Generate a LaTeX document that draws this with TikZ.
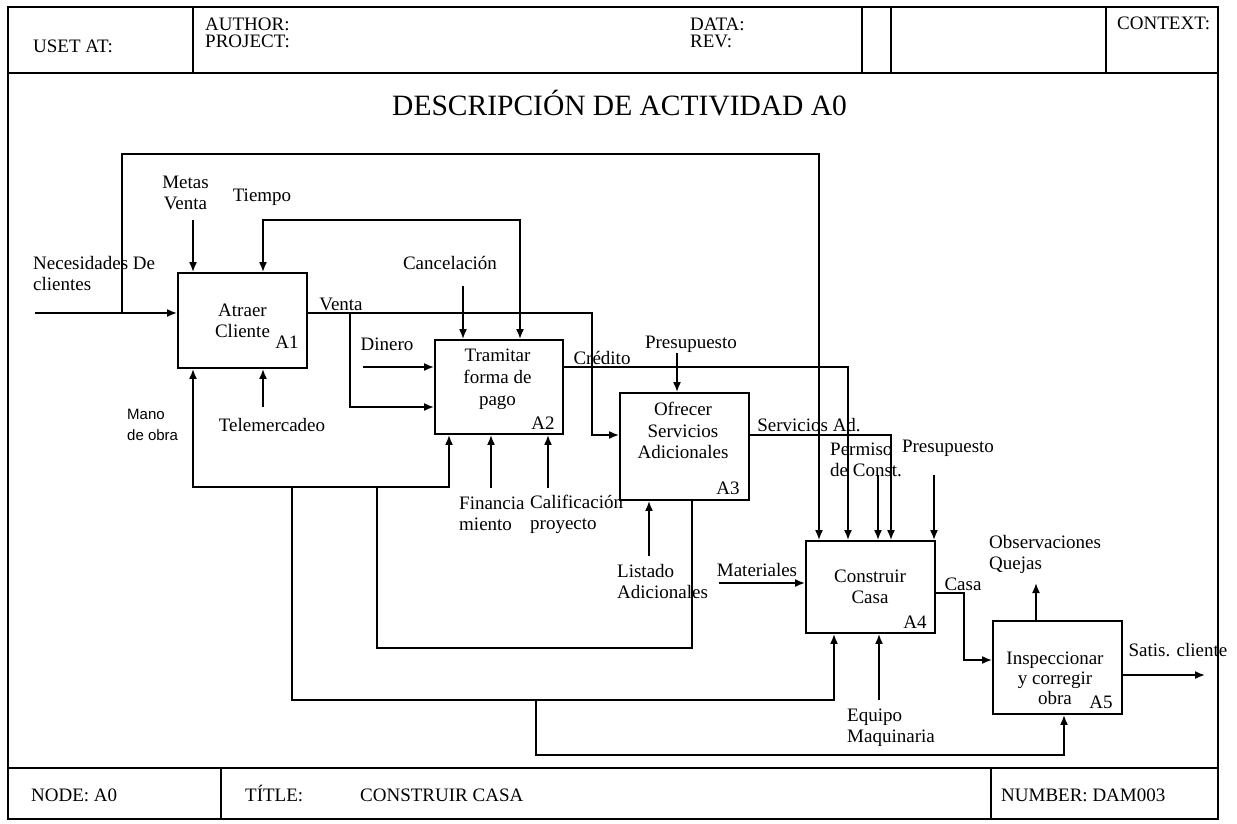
\documentclass[tikz,border=0pt]{standalone}
\usepackage{fontspec}
\setmainfont{Liberation Serif}
\newfontfamily\lsans{Liberation Sans}
\usetikzlibrary{arrows.meta}
\begin{document}
\begin{tikzpicture}[x=1pt,y=-1pt,
  frame/.style={line width=1.9pt},
  box/.style={draw,line width=1.9pt,inner sep=0pt},
  lbl/.style={font=\fontsize{19}{21}\selectfont,inner sep=0pt},
  hd/.style={font=\fontsize{19}{17}\selectfont,inner sep=0pt,anchor=base west},
  sanslbl/.style={font=\lsans\fontsize{15}{21}\selectfont,inner sep=0pt},
  conn/.style={line width=1.7pt},
  arr/.style={conn,-{Latex[length=10pt,width=8pt]}},
  arrs/.style={conn,{Latex[length=10pt,width=8pt]}-{Latex[length=10pt,width=8pt]}}]
\useasboundingbox (0,0) rectangle (1237,823);
\fill[white] (0,0) rectangle (1237,823);
% ---- frame ----
\draw[frame] (8,7) rectangle (1218,819);
\draw[frame] (8,73) -- (1218,73);
\draw[frame] (193,7) -- (193,73);
\draw[frame] (862,7) -- (862,73);
\draw[frame] (891,7) -- (891,73);
\draw[frame] (1106,7) -- (1106,73);
\draw[frame] (8,768) -- (1218,768);
\draw[frame] (221,768) -- (221,819);
\draw[frame] (991,768) -- (991,819);
% ---- header / footer ----
\node[hd] (uset) at (33,52.5) {USET AT:};
\node[hd] (author) at (205,30.5) {AUTHOR:};
\node[hd] (project) at (205,47.5) {PROJECT:};
\node[hd] (data) at (690,30.5) {DATA:};
\node[hd] (rev) at (690,47.5) {REV:};
\node[hd] (context) at (1117,29.5) {CONTEXT:};
\node[inner sep=0pt,anchor=west,font=\fontsize{29.5}{32}\selectfont] (title) at (392,103) {DESCRIPCIÓN DE ACTIVIDAD A0};
\node[hd] (nodeA) at (31,801.5) {NODE: A0};
\node[hd] (titl) at (245,801.5) {TÍTLE:};
\node[hd] (cc) at (360,801.5) {CONSTRUIR CASA};
\node[hd] (num) at (1001,801.5) {NUMBER: DAM003};
% ---- boxes ----
\node[box,minimum width=129pt,minimum height=95pt] (A1) at (242.5,320.5) {};
\node[box,minimum width=128pt,minimum height=94pt] (A2) at (499,387) {};
\node[box,minimum width=129pt,minimum height=107pt] (A3) at (684.5,446.5) {};
\node[box,minimum width=129pt,minimum height=92pt] (A4) at (870.5,587) {};
\node[box,minimum width=129pt,minimum height=93pt] (A5) at (1057.5,667.5) {};
\node[lbl,align=center] (A1t) at (242.5,321) {Atraer\\Cliente};
\node[lbl] (A1n) at (287,342) {A1};
\node[lbl,align=center,font=\fontsize{19}{22}\selectfont] (A2t) at (497.5,379) {Tramitar\\forma de\\pago};
\node[lbl] (A2n) at (543,423) {A2};
\node[lbl,align=center,font=\fontsize{19}{21.5}\selectfont] (A3t) at (683,430.5) {Ofrecer\\Servicios\\Adicionales};
\node[lbl] (A3n) at (728,488) {A3};
\node[lbl,align=center] (A4t) at (870,587) {Construir\\Casa};
\node[lbl] (A4n) at (915,622) {A4};
\node[lbl,align=center,font=\fontsize{19}{20}\selectfont] (A5t) at (1055,678.5) {Inspeccionar\\y corregir\\obra};
\node[lbl] (A5n) at (1101,702) {A5};
% ---- labels ----
\node[lbl,anchor=west,align=left] (nec) at (33,273) {Necesidades De\\clientes};
\node[lbl,align=center] (metas) at (185.5,193) {Metas\\Venta};
\node[lbl] (tiempo) at (262,197) {Tiempo};
\node[lbl] (venta) at (341,304) {Venta};
\node[lbl] (cancel) at (450,263) {Cancelación};
\node[lbl] (dinero) at (387,344) {Dinero};
\node[lbl] (credito) at (602,358) {Crédito};
\node[lbl] (presu1) at (691,344) {Presupuesto};
\node[lbl] (serv) at (809,425) {Servicios Ad.};
\node[lbl,anchor=west,align=left] (permiso) at (830,460) {Permiso\\de Const.};
\node[lbl] (presu2) at (948,448) {Presupuesto};
\node[lbl] (tele) at (272,425) {Telemercadeo};
\node[sanslbl,anchor=west,align=left] (mano) at (127,425) {Mano\\de obra};
\node[lbl,anchor=west,align=left] (fin) at (459,514) {Financia\\miento};
\node[lbl,anchor=west,align=left] (cal) at (530,514) {Calificación\\proyecto};
\node[lbl,anchor=west,align=left] (listado) at (617,581) {Listado\\Adicionales};
\node[lbl] (mat) at (757,570) {Materiales};
\node[lbl] (casa) at (963,584) {Casa};
\node[lbl,anchor=west,align=left] (obs) at (989,554.5) {Observaciones\\Quejas};
\node[lbl] (satis) at (1178,650) {Satis. cliente};
\node[lbl,anchor=west,align=left] (equipo) at (847,727.5) {Equipo\\Maquinaria};
% ---- coordinates ----
\coordinate (nin) at (35,313);
\coordinate (tl) at (122,313);
\coordinate (tlc) at (122,154);
\coordinate (tlc2) at (819,154);
\coordinate (mv) at (193,220);
\coordinate (tA) at (263,220);
\coordinate (tB) at (520,220);
\coordinate (can) at (463,286);
\coordinate (vy) at (592,313);
\coordinate (a3in) at (592,435);
\coordinate (vb) at (350,313);
\coordinate (vb2) at (350,407);
\coordinate (din) at (363,367);
\coordinate (cr) at (848,367);
\coordinate (p3) at (677,353);
\coordinate (sv) at (891,435);
\coordinate (pm) at (878,475);
\coordinate (p4) at (934,475);
\coordinate (matc) at (719,583);
\coordinate (ca) at (964,593);
\coordinate (ca2) at (964,660);
\coordinate (ob) at (1036,583);
\coordinate (sat) at (1205,675);
\coordinate (tm) at (263,407);
\coordinate (fi) at (491,488);
\coordinate (cl) at (548,488);
\coordinate (li) at (649,556);
\coordinate (eq) at (879,700);
\coordinate (m1) at (193,487);
\coordinate (m2) at (449,487);
\coordinate (m3) at (377,487);
\coordinate (m4) at (377,648);
\coordinate (m5) at (692,648);
\coordinate (m6) at (292,487);
\coordinate (m7) at (292,700);
\coordinate (m8) at (834,700);
\coordinate (m9) at (536,700);
\coordinate (m10) at (536,755);
\coordinate (m11) at (1064,755);
% ---- connectors ----
\draw[arr] (nin) -- (nin -| A1.west);
\draw[arr] (tl) -- (tlc) -- (tlc2) -- (tlc2 |- A4.north);
\draw[arr] (mv) -- (mv |- A1.north);
\draw[arrs] (tA |- A1.north) -- (tA) -- (tB) -- (tB |- A2.north);
\draw[arr] (can) -- (can |- A2.north);
\draw[arr] (vy -| A1.east) -- (vy) -- (a3in) -- (a3in -| A3.west);
\draw[arr] (vb) -- (vb2) -- (vb2 -| A2.west);
\draw[arr] (din) -- (din -| A2.west);
\draw[arr] (cr -| A2.east) -- (cr) -- (cr |- A4.north);
\draw[arr] (p3) -- (p3 |- A3.north);
\draw[arr] (sv -| A3.east) -- (sv) -- (sv |- A4.north);
\draw[arr] (pm) -- (pm |- A4.north);
\draw[arr] (p4) -- (p4 |- A4.north);
\draw[arr] (matc) -- (matc -| A4.west);
\draw[arr] (ca -| A4.east) -- (ca) -- (ca2) -- (ca2 -| A5.west);
\draw[arr] (ob |- A5.north) -- (ob);
\draw[arr] (sat -| A5.east) -- (sat);
\draw[arr] (tm) -- (tm |- A1.south);
\draw[arr] (fi) -- (fi |- A2.south);
\draw[arr] (cl) -- (cl |- A2.south);
\draw[arr] (li) -- (li |- A3.south);
\draw[arr] (eq) -- (eq |- A4.south);
\draw[arrs] (m1 |- A1.south) -- (m1) -- (m2) -- (m2 |- A2.south);
\draw[conn] (m3) -- (m4) -- (m5) -- (m5 |- A3.south);
\draw[arr] (m6) -- (m7) -- (m8) -- (m8 |- A4.south);
\draw[arr] (m9) -- (m10) -- (m11) -- (m11 |- A5.south);
\end{tikzpicture}
\end{document}
